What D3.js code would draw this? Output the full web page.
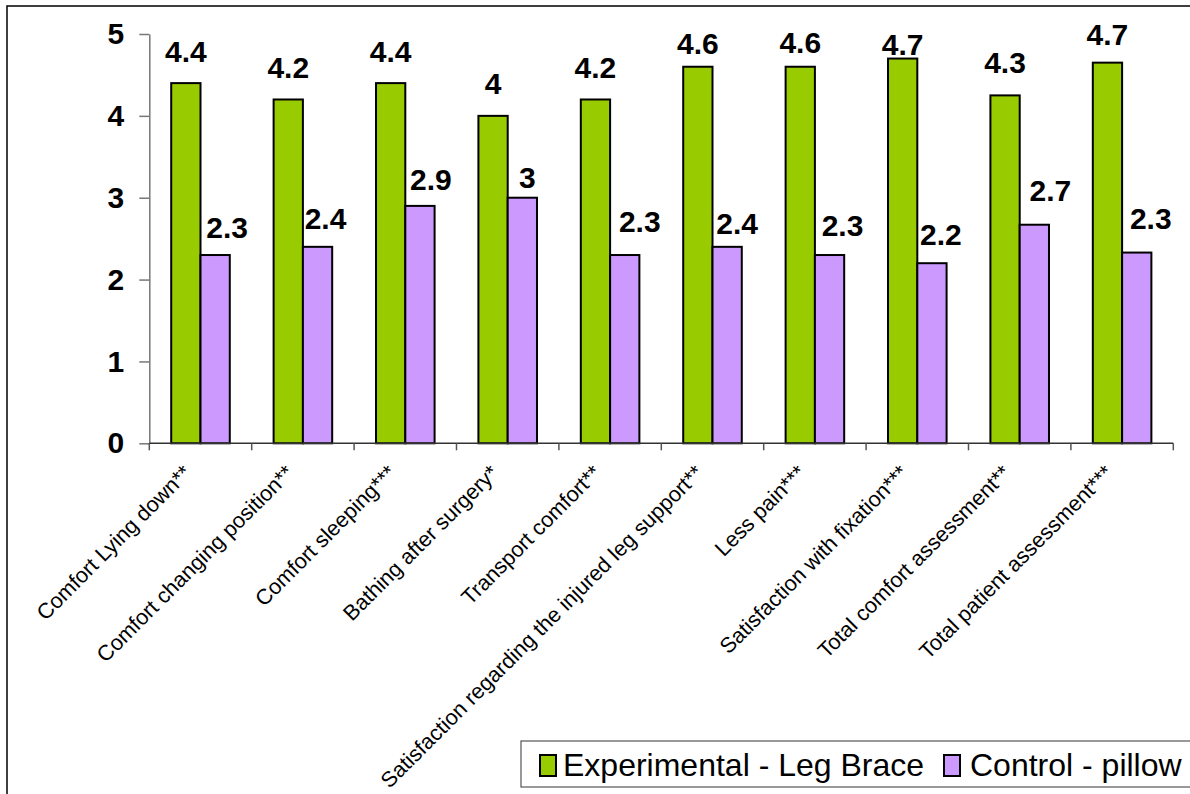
<!DOCTYPE html>
<html>
<head>
<meta charset="utf-8">
<script src="https://cdn.jsdelivr.net/npm/d3@7"></script>
<style>
  html, body { margin: 0; padding: 0; background: #fff; }
  svg { display: block; font-family: Arial, "Liberation Sans", sans-serif; }
</style>
</head>
<body>
<script>
// ---- data ----
const categories = [
  "Comfort Lying down**",
  "Comfort changing position**",
  "Comfort sleeping***",
  "Bathing after surgery*",
  "Transport comfort**",
  "Satisfaction regarding the injured leg support**",
  "Less pain***",
  "Satisfaction with fixation***",
  "Total comfort assessment**",
  "Total patient assessment***"
];
const experimental = [4.4, 4.2, 4.4, 4.0, 4.2, 4.6, 4.6, 4.7, 4.25, 4.65];
const control      = [2.3, 2.4, 2.9, 3.0, 2.3, 2.4, 2.3, 2.2, 2.67, 2.33];
const seriesNames  = ["Experimental - Leg Brace", "Control - pillow"];
const yTicks       = [0, 1, 2, 3, 4, 5];

// ---- label placement tweaks (pixels) ----
const expLabelGap  = [21, 21, 21, 22, 21, 13, 14, 4, 22, 18];
const ctrlLabelGap = [17, 18, 16, 10, 23, 13, 19, 18, 24, 24];
const ctrlLabelDx  = [12, 8, 11, 5, 15, 10, 13, 9, 16, 14];

const W = 1190, H = 794;
const colors = ["#99CC00", "#CC99FF"];
const fmt = v => String(Math.round(v * 10) / 10);

const svg = d3.select("body").append("svg")
  .attr("width", W).attr("height", H);

svg.append("rect").attr("width", W).attr("height", H).attr("fill", "#fff");

// chart frame (runs off the right and bottom edges)
svg.append("rect")
  .attr("x", 7).attr("y", 6).attr("width", 1300).attr("height", 900)
  .attr("fill", "none").attr("stroke", "#000").attr("stroke-width", 1.5);

const plotLeft = 149.3, plotRight = 1173.3, plotTop = 34, plotBottom = 443.3;

const x0 = d3.scaleBand().domain(categories)
  .range([plotLeft, plotRight]).paddingInner(0.428).paddingOuter(0.214);
const x1 = d3.scaleBand().domain([0, 1]).range([0, x0.bandwidth()]);
const y = d3.scaleLinear().domain([0, 5]).range([plotBottom, plotTop]);

// y axis
const yAxis = svg.append("g")
  .attr("transform", `translate(${plotLeft},0)`)
  .call(d3.axisLeft(y).tickValues(yTicks).tickSize(10).tickSizeOuter(0)
    .tickPadding(15).tickFormat(d3.format("d")));
yAxis.select(".domain").attr("stroke", "#777").attr("stroke-width", 1.5);
yAxis.selectAll(".tick line").attr("stroke", "#777").attr("stroke-width", 1.5);
yAxis.selectAll(".tick text")
  .attr("fill", "#000").attr("font-size", 30).attr("font-weight", "bold")
  .attr("font-family", "Arial, 'Liberation Sans', sans-serif");

// bars
const series = [experimental, control];
const groups = svg.append("g").selectAll("g")
  .data(categories).join("g")
  .attr("transform", d => `translate(${x0(d)},0)`);

groups.selectAll("rect")
  .data((d, i) => series.map((s, k) => ({ k, v: s[i] })))
  .join("rect")
  .attr("x", d => x1(d.k))
  .attr("y", d => y(d.v))
  .attr("width", x1.bandwidth())
  .attr("height", d => y(0) - y(d.v))
  .attr("fill", d => colors[d.k])
  .attr("stroke", "#000").attr("stroke-width", 2);

// x axis line and category separators
const step = x0.step();
const bounds = categories.map(c => x0(c) - (step - x0.bandwidth()) / 2)
  .concat([plotRight]);
const xAxis = svg.append("g");
xAxis.append("line")
  .attr("x1", plotLeft).attr("x2", plotRight)
  .attr("y1", plotBottom).attr("y2", plotBottom)
  .attr("stroke", "#333").attr("stroke-width", 1.5);
xAxis.selectAll("line.sep").data(bounds).join("line")
  .attr("class", "sep")
  .attr("x1", d => d).attr("x2", d => d)
  .attr("y1", plotBottom).attr("y2", plotBottom + 7)
  .attr("stroke", "#555").attr("stroke-width", 1.5);

// category labels, rotated
svg.append("g").selectAll("text")
  .data(categories).join("text")
  .attr("transform", d => `translate(${x0(d) + x0.bandwidth() / 2 - 8},${plotBottom + 31}) rotate(-45)`)
  .attr("text-anchor", "end")
  .attr("font-size", 21.6)
  .attr("fill", "#000")
  .text(d => d);

// value labels
const labels = svg.append("g")
  .attr("font-size", 30).attr("font-weight", "bold")
  .attr("text-anchor", "middle").attr("fill", "#000");
labels.selectAll("text.exp").data(experimental).join("text")
  .attr("class", "exp")
  .attr("x", (v, i) => x0(categories[i]) + x1(0) + x1.bandwidth() / 2)
  .attr("y", (v, i) => y(v) - expLabelGap[i])
  .text(fmt);
labels.selectAll("text.ctrl").data(control).join("text")
  .attr("class", "ctrl")
  .attr("x", (v, i) => x0(categories[i]) + x1(1) + x1.bandwidth() / 2 + ctrlLabelDx[i])
  .attr("y", (v, i) => y(v) - ctrlLabelGap[i])
  .text(fmt);

// legend
const legend = svg.append("g");
legend.append("rect")
  .attr("x", 521).attr("y", 741).attr("width", 700).attr("height", 46)
  .attr("fill", "#fff").attr("stroke", "#555").attr("stroke-width", 1.2);
const legendItems = [
  { sx: 540, tx: 563 },
  { sx: 944, tx: 970 }
];
legendItems.forEach((p, k) => {
  legend.append("rect")
    .attr("x", p.sx).attr("y", 755).attr("width", 16).attr("height", 21)
    .attr("fill", colors[k]).attr("stroke", "#000").attr("stroke-width", 2);
  legend.append("text")
    .attr("x", p.tx).attr("y", 776)
    .attr("font-size", 32).attr("fill", "#000")
    .text(seriesNames[k]);
});
</script>
</body>
</html>
